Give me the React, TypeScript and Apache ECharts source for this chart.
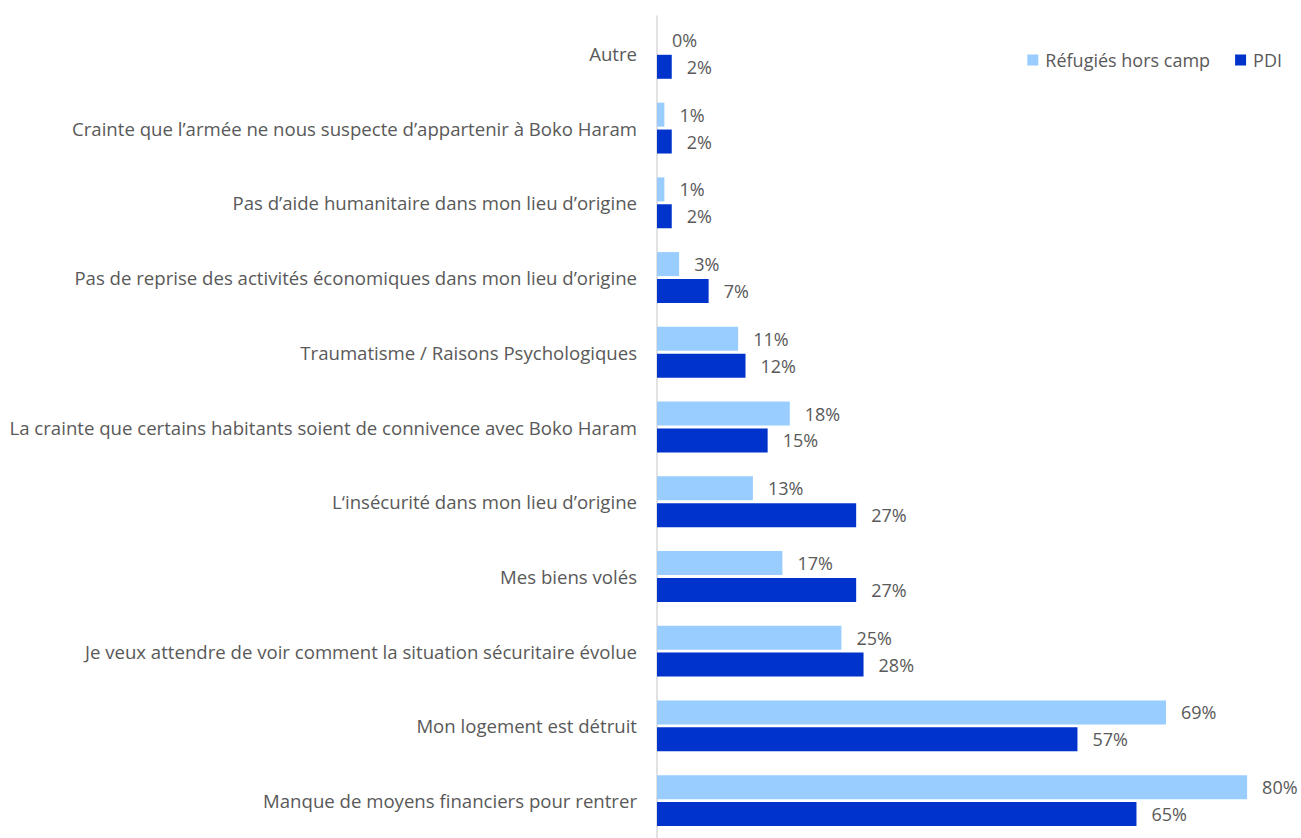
import React, { useEffect, useRef } from "react";
import * as echarts from "echarts";

const categories = [
  "Autre",
  "Crainte que l’armée ne nous suspecte d’appartenir à Boko Haram",
  "Pas d’aide humanitaire dans mon lieu d’origine",
  "Pas de reprise des activités économiques dans mon lieu d’origine",
  "Traumatisme / Raisons Psychologiques",
  "La crainte que certains habitants soient de connivence avec Boko Haram",
  "L‘insécurité dans mon lieu d’origine",
  "Mes biens volés",
  "Je veux attendre de voir comment la situation sécuritaire évolue",
  "Mon logement est détruit",
  "Manque de moyens financiers pour rentrer",
];
const refugies = [0, 1, 1, 3, 11, 18, 13, 17, 25, 69, 80];
const pdi = [2, 2, 2, 7, 12, 15, 27, 27, 28, 57, 65];
const seriesNames = ["Réfugiés hors camp", "PDI"];

const FONT = "Open Sans";
const TEXT = "#595959";
const FS = 18;

export default function App() {
  const ref = useRef<HTMLDivElement>(null);
  useEffect(() => {
    document.body.style.margin = "0";
    const chart = echarts.init(ref.current!, undefined, { renderer: "svg" });
    const label = {
      show: true,
      position: "right" as const,
      distance: 15,
      formatter: "{c}%",
      color: TEXT,
      fontFamily: FONT,
      fontSize: FS,
    };
    chart.setOption({
      animation: false,
      textStyle: { fontFamily: FONT },
      legend: {
        right: 14,
        top: 46,
        icon: "rect",
        itemWidth: 11,
        itemHeight: 11,
        itemGap: 25,
        textStyle: { color: TEXT, fontSize: FS, fontFamily: FONT, padding: [0, 0, 0, 2] },
        data: seriesNames,
      },
      grid: { left: 657, right: 17, top: 16, bottom: -10, containLabel: false },
      xAxis: {
        type: "value",
        min: 0,
        max: 85,
        show: false,
      },
      yAxis: {
        type: "category",
        inverse: true,
        data: categories,
        axisLine: { lineStyle: { color: "#D9D9D9", width: 1.5 } },
        axisTick: { show: false },
        axisLabel: { color: TEXT, fontSize: 18.6, fontFamily: FONT, margin: 20 },
      },
      series: [
        {
          name: seriesNames[0],
          type: "bar",
          data: refugies,
          barWidth: 24,
          barGap: "12%",
          itemStyle: { color: "#99CCFF" },
          label,
        },
        {
          name: seriesNames[1],
          type: "bar",
          data: pdi,
          barWidth: 24,
          itemStyle: { color: "#0033CC" },
          label,
        },
      ],
    });
    return () => chart.dispose();
  }, []);
  return <div ref={ref} style={{ width: 1301, height: 838 }} />;
}
